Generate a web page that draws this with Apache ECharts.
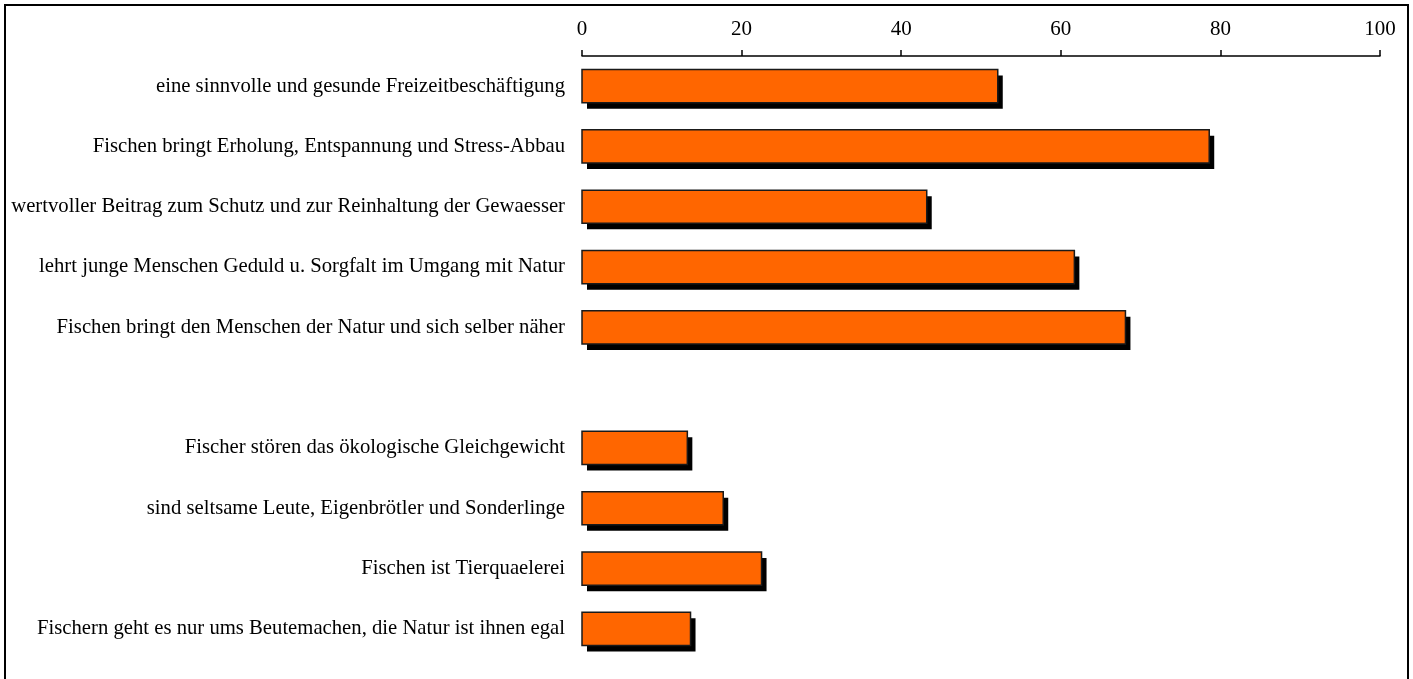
<!DOCTYPE html>
<html>
<head>
<meta charset="utf-8">
<script src="https://cdn.jsdelivr.net/npm/echarts@6/dist/echarts.min.js"></script>
<style>
  html, body { margin: 0; padding: 0; background: #fff; }
  #chart { width: 1413px; height: 679px; }
</style>
</head>
<body>
<div id="chart"></div>
<script>
// Statements about angling, top to bottom (empty entry = spacer row)
const statements = [
  'eine sinnvolle und gesunde Freizeitbeschäftigung',
  'Fischen bringt Erholung, Entspannung und Stress-Abbau',
  'wertvoller Beitrag zum Schutz und zur Reinhaltung der Gewaesser',
  'lehrt junge Menschen Geduld u. Sorgfalt im Umgang mit Natur',
  'Fischen bringt den Menschen der Natur und sich selber näher',
  '',
  'Fischer stören das ökologische Gleichgewicht',
  'sind seltsame Leute, Eigenbrötler und Sonderlinge',
  'Fischen ist Tierquaelerei',
  'Fischern geht es nur ums Beutemachen, die Natur ist ihnen egal'
];
// Agreement in percent
const agreement = [52.1, 78.6, 43.2, 61.7, 68.1, null, 13.2, 17.7, 22.5, 13.6];
const axisTicks = [0, 20, 40, 60, 80, 100];

const fontFamily = '"Liberation Serif", "DejaVu Serif", serif';

// Bar with a hard black drop shadow, drawn from the axis scales
function renderBar(params, api) {
  const v = api.value(1);
  if (v == null || isNaN(v)) return null;
  const idx = api.value(0);
  const start = api.coord([0, idx]);
  const end = api.coord([v, idx]);
  const band = api.size([0, 1])[1];
  const h = band * 0.55;
  const x = start[0];
  const y = start[1] - h / 2;
  const w = end[0] - start[0];
  return {
    type: 'group',
    children: [
      {
        type: 'rect',
        shape: { x: x + 5, y: y + 6, width: w, height: h },
        style: { fill: '#000' }
      },
      {
        type: 'rect',
        shape: { x: x, y: y, width: w, height: h },
        style: { fill: '#ff6600', stroke: '#1a1a1a', lineWidth: 1.5 }
      }
    ]
  };
}

const chart = echarts.init(document.getElementById('chart'));
chart.setOption({
  animation: false,
  backgroundColor: '#ffffff',
  graphic: [{
    type: 'rect',
    shape: { x: 5, y: 5, width: 1403, height: 700 },
    style: { fill: 'none', stroke: '#000', lineWidth: 2 },
    silent: true
  }],
  grid: { left: 582, right: 33, top: 56, bottom: 20, containLabel: false },
  xAxis: {
    type: 'value',
    position: 'top',
    min: axisTicks[0],
    max: axisTicks[axisTicks.length - 1],
    interval: axisTicks[1] - axisTicks[0],
    axisLine: { show: true, lineStyle: { color: '#000', width: 1.5 } },
    axisTick: { show: true, length: 6, lineStyle: { color: '#000', width: 1.5 } },
    axisLabel: { color: '#000', fontFamily: fontFamily, fontSize: 21, margin: 16 },
    splitLine: { show: false }
  },
  yAxis: {
    type: 'category',
    inverse: true,
    data: statements,
    axisLine: { show: false },
    axisTick: { show: false },
    axisLabel: { color: '#000', fontFamily: fontFamily, fontSize: 20.7, margin: 17 }
  },
  series: [{
    type: 'custom',
    renderItem: renderBar,
    encode: { x: 1, y: 0 },
    data: agreement.map((v, i) => [i, v]),
    silent: true
  }]
});
</script>
</body>
</html>
